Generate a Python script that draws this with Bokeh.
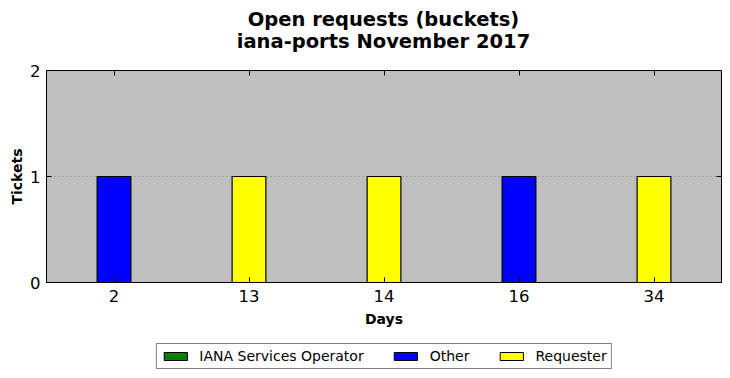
from bokeh.plotting import figure
from bokeh.layouts import column
from bokeh.models import (FactorRange, Range1d, LinearAxis, CategoricalAxis, Legend, LegendItem,
                          FixedTicker, CustomJSTickFormatter, Div)
from bokeh.embed import file_html
from bokeh.resources import INLINE

days = ["2", "13", "14", "16", "34"]
iana = [0, 0, 0, 0, 0]
other = [1, 0, 0, 1, 0]
requester = [0, 1, 1, 0, 1]
series = ["IANA Services Operator", "Other", "Requester"]
colors = ["green", "blue", "yellow"]
yticks = [0, 1, 2]
title_lines = ["Open requests (buckets)", "iana-ports November 2017"]

data = {"days": days, "IANA Services Operator": iana, "Other": other, "Requester": requester}

FONT = "DejaVu Sans"

# two-line title, each line centred over the plot frame
title_html = ('<div style="width:730px;height:56px;box-sizing:border-box;padding-top:9px;'
              'padding-left:37px;text-align:center;font-family:\'DejaVu Sans\';font-weight:bold;'
              'font-size:19.5px;line-height:22px;color:black;">'
              + "".join("<div>%s</div>" % t for t in title_lines) + "</div>")
head = Div(text=title_html, width=730, height=56, margin=0)

p = figure(x_range=FactorRange(*days, range_padding=0), y_range=Range1d(0, 2), title=None,
           width=730, height=282, output_backend="svg", toolbar_location=None,
           min_border_left=46, min_border_right=9, min_border_bottom=56, min_border_top=14)

renderers = p.vbar_stack(series, x="days", width=0.25, source=data, color=colors,
                         line_color="black", line_width=1.2)

p.background_fill_color = "#bfbfbf"
p.border_fill_color = "white"
p.outline_line_color = "black"
p.outline_line_width = 1

p.xgrid.grid_line_color = None
p.ygrid.grid_line_color = "#808080"
p.ygrid.grid_line_dash = "1 3"
p.ygrid.grid_line_width = 1

for ax in (p.xaxis[0], p.yaxis[0]):
    ax.major_tick_in = 5
    ax.major_tick_out = 0
    ax.minor_tick_line_color = None
    ax.major_label_text_font = FONT
    ax.major_label_text_font_size = "16.5px"
    ax.major_label_text_color = "black"
    ax.axis_label_text_font = FONT
    ax.axis_label_text_font_size = "14px"
    ax.axis_label_text_font_style = "bold"
    ax.axis_label_text_color = "black"
    ax.axis_line_color = "black"

p.yaxis.ticker = FixedTicker(ticks=yticks)
p.xaxis.axis_label = "Days"
p.yaxis.axis_label = "Tickets"
p.xaxis.major_label_standoff = 7
p.yaxis.major_label_standoff = 6
p.xaxis.axis_label_standoff = 6
p.yaxis.axis_label_standoff = 2

top = CategoricalAxis(major_tick_in=5, major_tick_out=0, formatter=CustomJSTickFormatter(code="return ''"),
                      major_label_standoff=0, axis_line_color=None, minor_tick_line_color=None)
right = LinearAxis(ticker=FixedTicker(ticks=yticks), major_tick_in=5, major_tick_out=0,
                   formatter=CustomJSTickFormatter(code="return ''"), major_label_standoff=0,
                   axis_line_color=None, minor_tick_line_color=None)
p.add_layout(top, "above")
p.add_layout(right, "right")

# legend lives in a thin strip below the chart; its swatch renderers sit outside the visible range
q = figure(width=730, height=40, output_backend="svg", toolbar_location=None,
           min_border_left=46, min_border_right=9, min_border_top=0, min_border_bottom=0,
           x_range=FactorRange(*days), y_range=Range1d(10, 11))
q.axis.visible = False
q.grid.grid_line_color = None
q.outline_line_color = None
swatches = q.vbar_stack(series, x="days", width=0.25, source=data, color=colors, line_color="black")

legend = Legend(items=[LegendItem(label=s, renderers=[r]) for s, r in zip(series, swatches)],
                orientation="horizontal", location="top_center",
                label_text_font=FONT, label_text_font_size="14px", label_text_color="black",
                glyph_width=29, glyph_height=10, label_standoff=10, spacing=27,
                label_height=13, padding=4, margin=5, border_line_color="black",
                border_line_width=1, background_fill_alpha=1)
q.add_layout(legend, "center")

open("out.html", "w").write(file_html(column(head, p, q, spacing=0), INLINE))
